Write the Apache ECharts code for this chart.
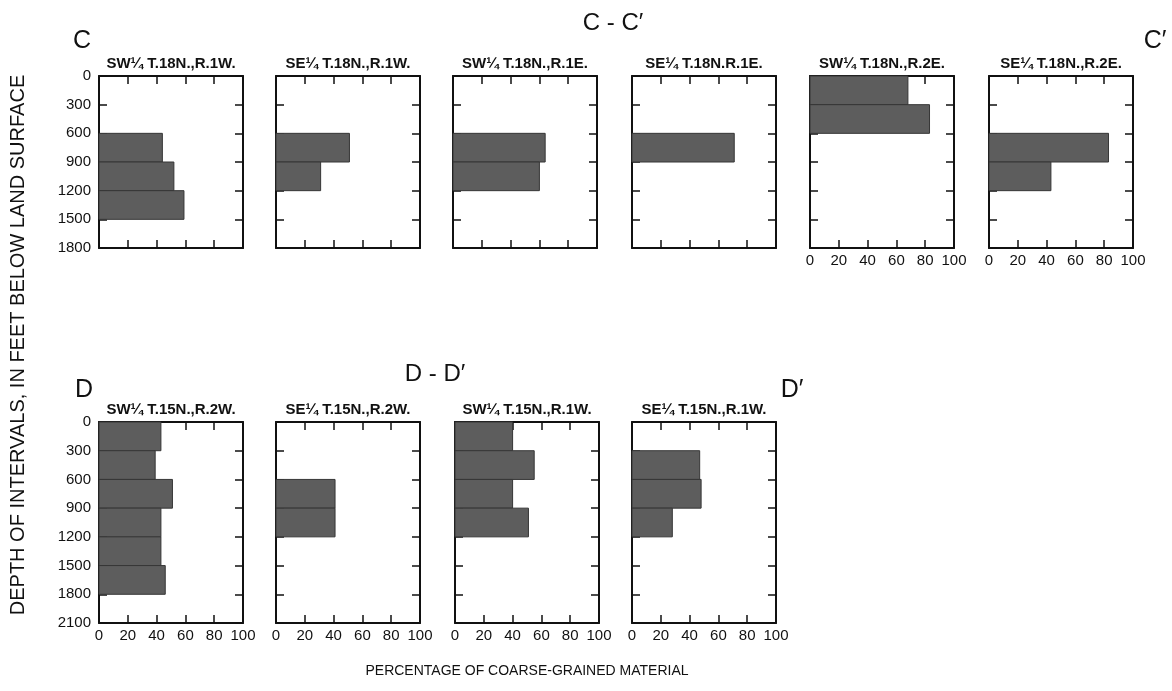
<!DOCTYPE html>
<html>
<head>
<meta charset="utf-8">
<script src="https://cdn.jsdelivr.net/npm/echarts@6/dist/echarts.min.js"></script>
<style>
  html, body { margin: 0; padding: 0; background: #fff; }
  #chart { width: 1172px; height: 691px; }
</style>
</head>
<body>
<div id="chart"></div>
<script>
// interval thickness, feet
const intervalFt = 300

// C - C' row
const topNames = ['SW¼ T.18N.,R.1W.', 'SE¼ T.18N.,R.1W.', 'SW¼ T.18N.,R.1E.', 'SE¼ T.18N.R.1E.', 'SW¼ T.18N.,R.2E.', 'SE¼ T.18N.,R.2E.']
const topStarts = [[600, 900, 1200], [600, 900], [600, 900], [600], [0, 300], [600, 900]]
const topValues = [[44, 52, 59], [51, 31], [64, 60], [71], [68, 83], [83, 43]]

// D - D' row
const bottomNames = ['SW¼ T.15N.,R.2W.', 'SE¼ T.15N.,R.2W.', 'SW¼ T.15N.,R.1W.', 'SE¼ T.15N.,R.1W.']
const bottomStarts = [[0, 300, 600, 900, 1200, 1500], [600, 900], [0, 300, 600, 900], [300, 600, 900]]
const bottomValues = [[43, 39, 51, 43, 43, 46], [41, 41], [40, 55, 40, 51], [47, 48, 28]]

const topMaxDepth = 1800
const bottomMaxDepth = 2100
const pctMax = 100
const pctStep = 20

const FONT = '"Liberation Sans", Arial, sans-serif'
const BAR = '#5d5d5d'

// panel placement
const topLefts = [99, 276, 453, 632, 810, 989]
const bottomLefts = [99, 276, 455, 632]
const panelW = 144
const topRow = { top: 76, height: 172 }
const bottomRow = { top: 422, height: 201 }

const grids = [], xAxes = [], yAxes = [], series = [], graphics = []

function addPanel(left, row, maxDepth, name, starts, values, showY, showX) {
  const g = grids.length
  grids.push({ left, top: row.top, width: panelW, height: row.height })

  const tick = { show: true, inside: true, length: 8, lineStyle: { color: '#111', width: 1.5 } }
  const line = { show: true, onZero: false, lineStyle: { color: '#111', width: 2 } }
  const xBase = {
    type: 'value', gridIndex: g, min: 0, max: pctMax, interval: pctStep,
    splitLine: { show: false }, axisLine: line, axisTick: tick
  }
  xAxes.push(Object.assign({}, xBase, {
    position: 'bottom',
    axisLabel: { show: showX, color: '#111', fontFamily: FONT, fontSize: 15, margin: 5 }
  }))
  xAxes.push(Object.assign({}, xBase, { position: 'top', axisLabel: { show: false } }))

  const yBase = {
    type: 'value', gridIndex: g, min: 0, max: maxDepth, interval: intervalFt, inverse: true,
    splitLine: { show: false }, axisLine: line, axisTick: tick
  }
  yAxes.push(Object.assign({}, yBase, {
    position: 'left',
    axisLabel: { show: showY, color: '#111', fontFamily: FONT, fontSize: 15, margin: 8, formatter: v => String(v) }
  }))
  yAxes.push(Object.assign({}, yBase, { position: 'right', axisLabel: { show: false } }))

  series.push({
    type: 'custom',
    xAxisIndex: 2 * g,
    yAxisIndex: 2 * g,
    encode: { x: 2, y: [0, 1] },
    data: starts.map((s, k) => [s, s + intervalFt, values[k]]),
    renderItem: (params, api) => {
      const p0 = api.coord([0, api.value(0)])
      const p1 = api.coord([api.value(2), api.value(1)])
      return {
        type: 'rect',
        shape: { x: p0[0], y: p0[1], width: p1[0] - p0[0], height: p1[1] - p0[1] },
        style: { fill: BAR, stroke: '#363636', lineWidth: 1 }
      }
    }
  })

  graphics.push({
    type: 'text', x: left + panelW / 2, y: row.top - 12,
    style: {
      text: name, fill: '#111', font: 'bold 15px ' + FONT,
      align: 'center', verticalAlign: 'middle', textAlign: 'center', textVerticalAlign: 'middle'
    }
  })
}

topLefts.forEach((l, i) => addPanel(l, topRow, topMaxDepth, topNames[i], topStarts[i], topValues[i], i === 0, i >= 4))
bottomLefts.forEach((l, i) => addPanel(l, bottomRow, bottomMaxDepth, bottomNames[i], bottomStarts[i], bottomValues[i], i === 0, true))

function label(text, x, y, size, rotation) {
  graphics.push({
    type: 'text', x, y, rotation: rotation || 0,
    style: {
      text, fill: '#111', font: size + 'px ' + FONT,
      align: 'center', verticalAlign: 'middle', textAlign: 'center', textVerticalAlign: 'middle'
    }
  })
}

label('C', 82, 41, 25)
label('C - C′', 613, 23, 24)
label('C′', 1155, 41, 25)
label('D', 84, 390, 25)
label('D - D′', 435, 374, 24)
label('D′', 792, 390, 25)
label('PERCENTAGE OF COARSE-GRAINED MATERIAL', 527, 671, 14)
label('DEPTH OF INTERVALS, IN FEET BELOW LAND SURFACE', 18, 345, 20, Math.PI / 2)

const chart = echarts.init(document.getElementById('chart'))
chart.setOption({
  animation: false,
  backgroundColor: '#fff',
  grid: grids,
  xAxis: xAxes,
  yAxis: yAxes,
  series,
  graphic: graphics
})
</script>
</body>
</html>
